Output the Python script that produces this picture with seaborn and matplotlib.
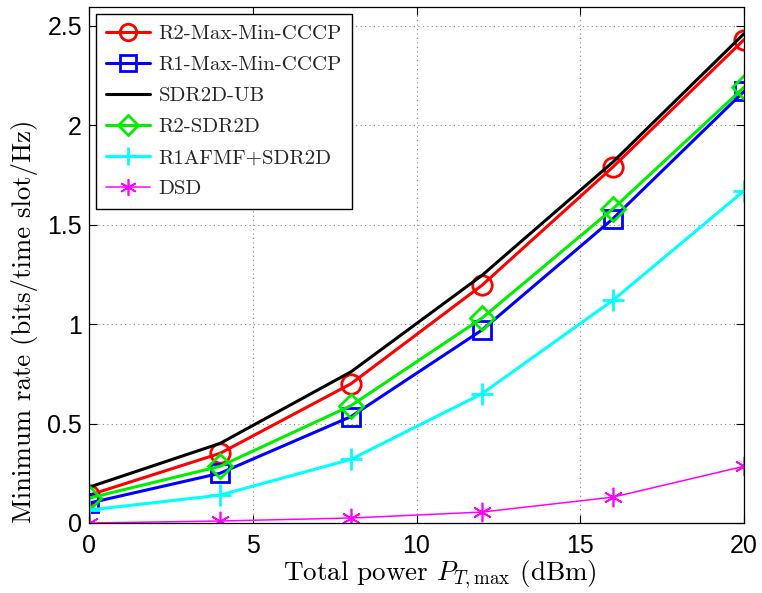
import matplotlib
matplotlib.use("Agg")
import matplotlib.pyplot as plt
import seaborn as sns
import pandas as pd

power_dbm = [0, 4, 8, 12, 16, 20]
r2_cccp = [0.14, 0.35, 0.70, 1.195, 1.79, 2.43]
r1_cccp = [0.10, 0.25, 0.535, 0.97, 1.53, 2.17]
sdr2d_ub = [0.18, 0.40, 0.76, 1.245, 1.815, 2.46]
r2_sdr2d = [0.125, 0.285, 0.59, 1.03, 1.58, 2.19]
r1afmf_sdr2d = [0.065, 0.14, 0.32, 0.65, 1.12, 1.67]
dsd = [0.0, 0.01, 0.025, 0.055, 0.13, 0.285]

series_names = ["R2-Max-Min-CCCP", "R1-Max-Min-CCCP", "SDR2D-UB",
                "R2-SDR2D", "R1AFMF+SDR2D", "DSD"]
series_values = [r2_cccp, r1_cccp, sdr2d_ub, r2_sdr2d, r1afmf_sdr2d, dsd]
x_ticks = [0, 5, 10, 15, 20]
y_ticks = [0, 0.5, 1, 1.5, 2, 2.5]
x_tick_labels = ["0", "5", "10", "15", "20"]
y_tick_labels = ["0", "0.5", "1", "1.5", "2", "2.5"]

sns.set_theme(style="white")
plt.rcParams["mathtext.fontset"] = "cm"
plt.rcParams["axes.unicode_minus"] = False

styles = {
    "R2-Max-Min-CCCP": dict(color="#ff0000", marker="o", ms=14, lw=2.2),
    "R1-Max-Min-CCCP": dict(color="#0000ff", marker="s", ms=13, lw=2.2),
    "SDR2D-UB": dict(color="#000000", marker=None, ms=0, lw=2.2),
    "R2-SDR2D": dict(color="#00ee00", marker="D", ms=12, lw=2.2),
    "R1AFMF+SDR2D": dict(color="#00ffff", marker="+", ms=16, lw=2.2),
    "DSD": dict(color="#ff00ff", marker="*", ms=14, lw=1.1),
}

fig = plt.figure(figsize=(7.62, 5.93), dpi=100)
ax = fig.add_axes([89 / 762, 70 / 593, 655 / 762, 516 / 593])

for name, vals in zip(series_names, series_values):
    st = styles[name]
    df = pd.DataFrame({"x": power_dbm, "y": vals})
    kw = dict(color=st["color"], linewidth=st["lw"], label=name)
    if st["marker"] is not None:
        mk = st["marker"]
        if mk == "*":
            mk = (6, 2, 0)
        kw.update(marker=mk, markersize=st["ms"], markerfacecolor="none",
                  markeredgecolor=st["color"],
                  markeredgewidth=2.0 if name != "DSD" else 1.2)
    sns.lineplot(data=df, x="x", y="y", ax=ax, **kw)

ax.set_xlim(0, 20)
ax.set_ylim(0, 2.594)
ax.set_xticks(x_ticks)
ax.set_yticks(y_ticks)
ax.set_xticklabels(x_tick_labels)
ax.set_yticklabels(y_tick_labels)
for lab in ax.get_xticklabels() + ax.get_yticklabels():
    lab.set_fontfamily("Liberation Sans")
    lab.set_fontsize(18)
ax.tick_params(direction="in", length=6, width=0.8, top=True, right=True,
               bottom=True, left=True, colors="black")
ax.tick_params(axis="y", pad=5)
ax.tick_params(axis="x", pad=8)
ax.grid(True, linestyle=(0, (1, 3)), color="#888888", linewidth=0.8)
for sp in ax.spines.values():
    sp.set_color("black")
    sp.set_linewidth(0.9)

ax.set_xlabel(r"Total power $P_{T,\max}$ (dBm)", fontfamily="cmr10",
              fontsize=19.5, color="black")
ax.set_ylabel("Minimum rate (bits/time slot/Hz)", fontfamily="cmr10",
              fontsize=19.3, color="black")
ax.xaxis.set_label_coords(0.536, -0.07)
ax.yaxis.set_label_coords(-0.078, 0.391)

leg = ax.legend(loc="upper left", prop={"family": "cmr10", "size": 15},
                frameon=True, fancybox=False, edgecolor="black",
                framealpha=1, handlelength=2.1, handletextpad=0.4,
                borderpad=0.5, labelspacing=0.6, borderaxespad=0.33)
leg.get_frame().set_linewidth(1.0)
for h in leg.legend_handles:
    h.set_markersize(h.get_markersize() * 0.85)

fig.savefig("out.png", dpi=100)
